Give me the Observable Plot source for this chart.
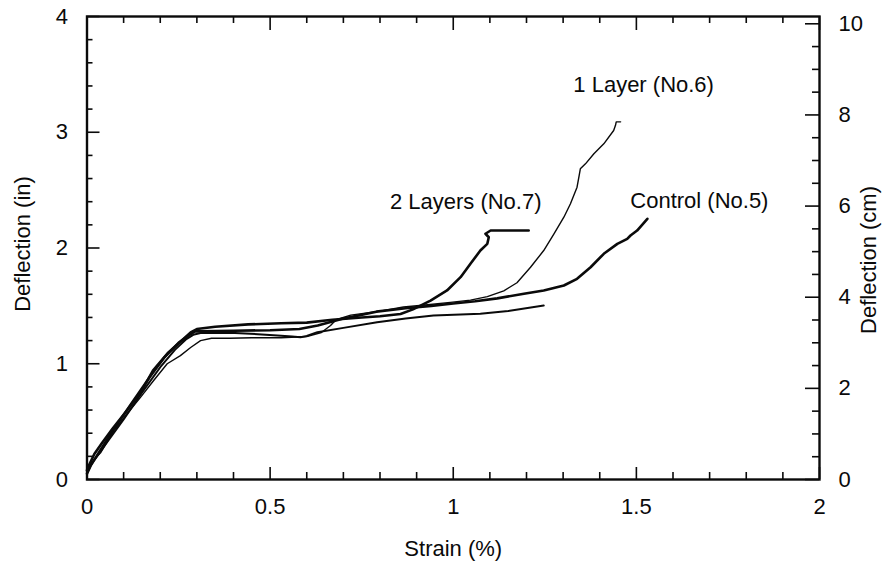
<!DOCTYPE html>
<html>
<head>
<meta charset="utf-8">
<script src="https://cdn.jsdelivr.net/npm/d3@7"></script>
<script src="https://cdn.jsdelivr.net/npm/@observablehq/plot@0.6"></script>
<style>
  html, body { margin: 0; padding: 0; background: #fff; }
  #chart svg { display: block; }
</style>
</head>
<body>
<div id="chart"></div>
<script>
// Deflection versus strain for three beams (control, one and two layers) plus a fourth record.
// Strain in %, deflection in inches; the right axis shows the same deflection in cm.

const controlStrain = [0, 0.01, 0.03, 0.07, 0.12, 0.17, 0.21, 0.25, 0.28, 0.295, 0.31, 0.40, 0.50, 0.58, 0.63, 0.70, 0.79, 0.87, 0.94, 1.00, 1.06, 1.12, 1.193, 1.247, 1.302, 1.338, 1.375, 1.411, 1.448, 1.475, 1.484, 1.502, 1.53];
const controlDefl   = [0.05, 0.12, 0.22, 0.42, 0.65, 0.88, 1.05, 1.18, 1.25, 1.28, 1.28, 1.285, 1.29, 1.30, 1.33, 1.39, 1.45, 1.48, 1.50, 1.52, 1.54, 1.565, 1.604, 1.633, 1.676, 1.734, 1.834, 1.95, 2.036, 2.079, 2.108, 2.151, 2.252];

const oneLayerStrain = [0, 0.015, 0.028, 0.037, 0.073, 0.11, 0.146, 0.182, 0.219, 0.255, 0.283, 0.31, 0.34, 0.39, 0.45, 0.53, 0.60, 0.64, 0.665, 0.68, 0.72, 0.80, 0.864, 0.93, 0.992, 1.047, 1.093, 1.138, 1.174, 1.211, 1.247, 1.275, 1.302, 1.32, 1.338, 1.343, 1.347, 1.361, 1.384, 1.411, 1.438, 1.443, 1.445, 1.457];
const oneLayerDefl   = [0.05, 0.15, 0.20, 0.23, 0.42, 0.57, 0.71, 0.855, 1.0, 1.07, 1.14, 1.20, 1.22, 1.22, 1.225, 1.225, 1.235, 1.27, 1.33, 1.38, 1.42, 1.455, 1.49, 1.51, 1.53, 1.55, 1.58, 1.63, 1.70, 1.834, 1.978, 2.123, 2.266, 2.382, 2.525, 2.612, 2.684, 2.727, 2.814, 2.90, 3.015, 3.06, 3.09, 3.09];

const twoLayersStrain = [0, 0.005, 0.02, 0.04, 0.07, 0.11, 0.15, 0.18, 0.22, 0.255, 0.283, 0.30, 0.35, 0.44, 0.53, 0.60, 0.67, 0.75, 0.80, 0.856, 0.89, 0.938, 0.983, 1.02, 1.047, 1.074, 1.093, 1.097, 1.088, 1.102, 1.206];
const twoLayersDefl   = [0.08, 0.12, 0.22, 0.31, 0.44, 0.60, 0.77, 0.94, 1.09, 1.19, 1.27, 1.30, 1.32, 1.34, 1.35, 1.355, 1.38, 1.40, 1.41, 1.43, 1.47, 1.546, 1.633, 1.748, 1.864, 1.978, 2.036, 2.093, 2.123, 2.151, 2.151];

const fourthStrain = [0, 0.02, 0.05, 0.10, 0.15, 0.20, 0.24, 0.27, 0.29, 0.31, 0.39, 0.446, 0.52, 0.56, 0.583, 0.60, 0.629, 0.70, 0.792, 0.87, 0.946, 1.02, 1.074, 1.15, 1.247];
const fourthDefl   = [0.07, 0.17, 0.30, 0.52, 0.75, 0.97, 1.12, 1.21, 1.25, 1.265, 1.267, 1.259, 1.245, 1.235, 1.229, 1.24, 1.273, 1.31, 1.359, 1.39, 1.417, 1.425, 1.432, 1.455, 1.503];

// Axis ticks
const strainMinor = d3.range(0, 21).map(i => i / 10);
const strainMajor = [0, 0.5, 1, 1.5, 2];
const strainLabels = ["0", "0.5", "1", "1.5", "2"];
const inchMinor = d3.range(0, 21).map(i => i / 5);
const inchMajor = [0, 1, 2, 3, 4];
const cmMinor = d3.range(0, 21).map(i => i / 2);
const cmMajor = [0, 2, 4, 6, 8, 10];

const W = 882, H = 568;
const mL = 86.5, mR = 63, mT = 16, mB = 89;
const innerW = W - mL - mR, innerH = H - mT - mB;
const CM_PER_IN = 2.54;

const toRows = (xs, ys) => xs.map((x, i) => ({strain: x, defl: ys[i]}));
const control = toRows(controlStrain, controlDefl);
const oneLayer = toRows(oneLayerStrain, oneLayerDefl);
const twoLayers = toRows(twoLayersStrain, twoLayersDefl);
const fourth = toRows(fourthStrain, fourthDefl);

const ink = "#0a0a0a";
const font = "'Liberation Sans', Arial, Helvetica, sans-serif";
const fs = 22;

const lastOf = (rows, label) => [{...rows[rows.length - 1], label}];
const notIn = list => d => !list.includes(d);

const chart = Plot.plot({
  width: W,
  height: H,
  marginLeft: mL,
  marginRight: mR,
  marginTop: mT,
  marginBottom: mB,
  x: {domain: [0, 2], axis: null},
  y: {domain: [0, 4], axis: null},
  style: {fontFamily: font, fontSize: fs + "px", background: "#fff", color: ink},
  marks: [
    // inward ticks on all four sides
    Plot.tickX(strainMinor.filter(notIn(strainMajor)), {x: d => d, insetTop: innerH - 7, stroke: ink, strokeWidth: 1.6}),
    Plot.tickX(strainMajor, {x: d => d, insetTop: innerH - 12, stroke: ink, strokeWidth: 1.6}),
    Plot.tickX(strainMinor.filter(notIn(strainMajor)), {x: d => d, insetBottom: innerH - 7, stroke: ink, strokeWidth: 1.6}),
    Plot.tickX(strainMajor, {x: d => d, insetBottom: innerH - 14, stroke: ink, strokeWidth: 1.6}),
    Plot.tickY(inchMinor.filter(notIn(inchMajor)), {y: d => d, insetRight: innerW - 6, stroke: ink, strokeWidth: 1.6}),
    Plot.tickY(inchMajor, {y: d => d, insetRight: innerW - 13, stroke: ink, strokeWidth: 1.6}),
    Plot.tickY(cmMinor.filter(notIn(cmMajor)), {y: d => d / CM_PER_IN, insetLeft: innerW - 7, stroke: ink, strokeWidth: 1.6}),
    Plot.tickY(cmMajor, {y: d => d / CM_PER_IN, insetLeft: innerW - 14, stroke: ink, strokeWidth: 1.6}),
    Plot.frame({stroke: ink, strokeWidth: 2.4}),

    // tick labels
    Plot.text(strainMajor, {x: d => d, text: (d, i) => strainLabels[i], frameAnchor: "bottom", dy: 34, fill: ink, fontSize: fs}),
    Plot.text(inchMajor, {y: d => d, text: d => String(d), frameAnchor: "left", textAnchor: "end", dx: -19, fill: ink, fontSize: fs}),
    Plot.text(cmMajor, {y: d => d / CM_PER_IN, text: d => String(d), frameAnchor: "right", textAnchor: "start", dx: 19, fill: ink, fontSize: fs}),

    // axis titles
    Plot.text(["Strain (%)"], {text: d => d, frameAnchor: "bottom", dy: 76, fill: ink, fontSize: fs}),
    Plot.text(["Deflection (in)"], {text: d => d, frameAnchor: "left", textAnchor: "middle", rotate: -90, dx: -64, dy: -4, fill: ink, fontSize: fs}),
    Plot.text(["Deflection (cm)"], {text: d => d, frameAnchor: "right", textAnchor: "middle", rotate: -90, dx: 49, dy: 12, fill: ink, fontSize: fs}),

    // curves
    Plot.line(fourth, {x: "strain", y: "defl", stroke: ink, strokeWidth: 2.0}),
    Plot.line(oneLayer, {x: "strain", y: "defl", stroke: ink, strokeWidth: 1.4}),
    Plot.line(control, {x: "strain", y: "defl", stroke: ink, strokeWidth: 2.6}),
    Plot.line(twoLayers, {x: "strain", y: "defl", stroke: ink, strokeWidth: 2.6}),

    // series labels, placed relative to each curve's final point
    Plot.text(lastOf(oneLayer, "1 Layer (No.6)"), {x: "strain", y: "defl", text: "label", dx: 23, dy: -37, fill: ink, fontSize: fs}),
    Plot.text(lastOf(control, "Control (No.5)"), {x: "strain", y: "defl", text: "label", dx: 52, dy: -18, fill: ink, fontSize: fs}),
    Plot.text(lastOf(twoLayers, "2 Layers (No.7)"), {x: "strain", y: "defl", text: "label", dx: -63, dy: -29, fill: ink, fontSize: fs})
  ]
});

document.getElementById("chart").appendChild(chart);
</script>
</body>
</html>
